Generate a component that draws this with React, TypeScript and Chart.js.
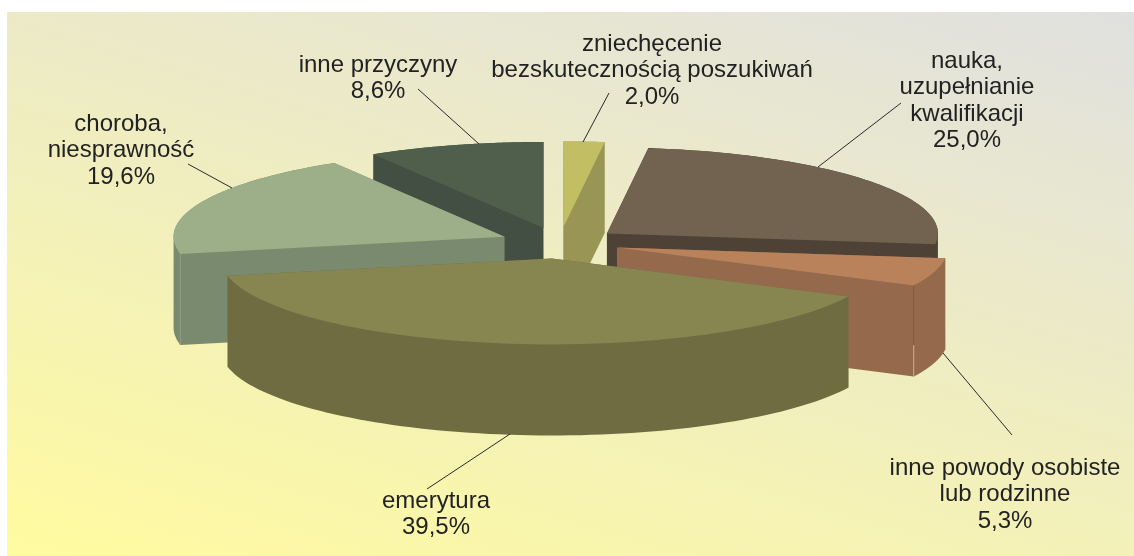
import React, { useEffect, useRef } from "react";
import { Chart, registerables } from "chart.js";

Chart.register(...registerables);

const categories = [
  ["zniechęcenie", "bezskutecznością poszukiwań"],
  ["nauka,", "uzupełnianie", "kwalifikacji"],
  ["inne powody osobiste", "lub rodzinne"],
  ["emerytura"],
  ["choroba,", "niesprawność"],
  ["inne przyczyny"],
];
const values = [2.0, 25.0, 5.3, 39.5, 19.6, 8.6];
const topColors = ["#c2be64", "#716350", "#b9825a", "#878550", "#9caf88", "#4f5f4b"];
const wallColors = ["#999555", "#4d4235", "#94694c", "#6f6c42", "#7a8a6e", "#434f42"];
const paintOrder = [0, 5, 4, 1, 2, 3];
const labelCenters = [
  [652, 44],
  [967, 61],
  [1005, 468],
  [436, 501],
  [121, 124],
  [378, 65],
];
const leaders = [
  [609, 93, 583, 142],
  [901, 103, 818, 167],
  [943, 353, 1012, 435],
  [427, 489, 510, 434],
  [188, 164, 232, 188],
  [418, 89, 479, 144],
];

const W = 1134;
const H = 556;
const PANEL_X = 7;
const PANEL_Y = 12;
const CX = 559.5;
const CY = 243;
const RX = 331;
const RY = 86;
const EXPLODE_X = 60;
const EXPLODE_Y = 15.6;
const DEPTH = 91;
const FONT = '24px "Liberation Sans", Arial, sans-serif';
const LINE = 26.6;

function hull(pts: number[][]) {
  const p = [...pts].sort((a, b) => a[0] - b[0] || a[1] - b[1]);
  const cross = (o: number[], a: number[], b: number[]) =>
    (a[0] - o[0]) * (b[1] - o[1]) - (a[1] - o[1]) * (b[0] - o[0]);
  const build = (list: number[][]) => {
    const out: number[][] = [];
    list.forEach((q) => {
      while (out.length >= 2 && cross(out[out.length - 2], out[out.length - 1], q) <= 0) out.pop();
      out.push(q);
    });
    out.pop();
    return out;
  };
  return [...build(p), ...build([...p].reverse())];
}

const pie3d = {
  id: "pie3d",
  beforeDraw(chart: any) {
    const { ctx } = chart;
    const g = ctx.createLinearGradient(PANEL_X, H, 253, -259);
    g.addColorStop(0, "#fffba0");
    g.addColorStop(1, "#e0e0e0");
    ctx.save();
    ctx.fillStyle = "#ffffff";
    ctx.fillRect(0, 0, W, H);
    ctx.fillStyle = g;
    ctx.fillRect(PANEL_X, PANEL_Y, W - PANEL_X, H - PANEL_Y);
    ctx.restore();
  },
  beforeDatasetsDraw(chart: any) {
    const { ctx } = chart;
    const arcs = chart.getDatasetMeta(0).data;
    const origin = (e: any) => {
      const mid = (e.startAngle + e.endAngle) / 2;
      return [CX + Math.cos(mid) * EXPLODE_X, CY + Math.sin(mid) * EXPLODE_Y];
    };
    const rim = (e: any, a: number) => {
      const [ox, oy] = origin(e);
      return [ox + Math.cos(a) * RX, oy + Math.sin(a) * RY];
    };
    paintOrder.forEach((i) => {
      const e = arcs[i];
      const [ox, oy] = origin(e);
      // side walls: the slice outline swept down by the depth of the pie
      const outline = [[ox, oy]];
      for (let s = 0; s <= 80; s++) {
        outline.push(rim(e, e.startAngle + ((e.endAngle - e.startAngle) * s) / 80));
      }
      const swept = hull([...outline, ...outline.map(([x, y]) => [x, y + DEPTH])]);
      ctx.beginPath();
      swept.forEach(([x, y], k) => (k ? ctx.lineTo(x, y) : ctx.moveTo(x, y)));
      ctx.closePath();
      ctx.fillStyle = wallColors[i];
      ctx.fill();
      // top face: the library's own arc element under the tilt transform
      ctx.save();
      ctx.translate(ox, oy);
      ctx.scale(RX / e.outerRadius, RY / e.outerRadius);
      ctx.translate(-e.x, -e.y);
      e.draw(ctx);
      ctx.restore();
    });
    // corner hairlines on the walls
    const corner = (i: number, a: number, c1: string, c2: string) => {
      const [x, y] = rim(arcs[i], a);
      const g = ctx.createLinearGradient(0, y, 0, y + DEPTH);
      g.addColorStop(0, c1);
      g.addColorStop(0.65, c1);
      g.addColorStop(0.66, c2);
      g.addColorStop(1, c2);
      ctx.strokeStyle = g;
      ctx.lineWidth = 1;
      ctx.beginPath();
      ctx.moveTo(x, y);
      ctx.lineTo(x, y + DEPTH);
      ctx.stroke();
    };
    corner(2, arcs[2].endAngle, "#7c5a40", "#cdb28c");
    corner(4, arcs[4].startAngle, "#8f9f83", "#8f9f83");
    return false;
  },
  afterDraw(chart: any) {
    const { ctx } = chart;
    ctx.save();
    ctx.strokeStyle = "#2a2a2a";
    ctx.lineWidth = 1;
    leaders.forEach(([x1, y1, x2, y2]) => {
      ctx.beginPath();
      ctx.moveTo(x1, y1);
      ctx.lineTo(x2, y2);
      ctx.stroke();
    });
    ctx.fillStyle = "#222222";
    ctx.font = FONT;
    ctx.textAlign = "center";
    ctx.textBaseline = "middle";
    categories.forEach((lines, i) => {
      const [x, y] = labelCenters[i];
      const all = [...lines, values[i].toFixed(1).replace(".", ",") + "%"];
      all.forEach((t, j) => ctx.fillText(t, x, y + j * LINE));
    });
    ctx.restore();
  },
};

export default function App() {
  const ref = useRef<HTMLCanvasElement>(null);
  useEffect(() => {
    const chart = new Chart(ref.current as HTMLCanvasElement, {
      type: "pie",
      data: {
        labels: categories.map((c) => c.join(" ")),
        datasets: [{ data: values, backgroundColor: topColors, borderWidth: 0 }],
      },
      options: {
        animation: false,
        responsive: false,
        rotation: 0,
        layout: { padding: 0 },
        plugins: { legend: { display: false }, tooltip: { enabled: false } },
      },
      plugins: [pie3d],
    } as any);
    return () => chart.destroy();
  }, []);
  return (
    <canvas
      ref={ref}
      width={W}
      height={H}
      style={{ position: "absolute", left: 0, top: 0, width: W, height: H, display: "block" }}
    />
  );
}
